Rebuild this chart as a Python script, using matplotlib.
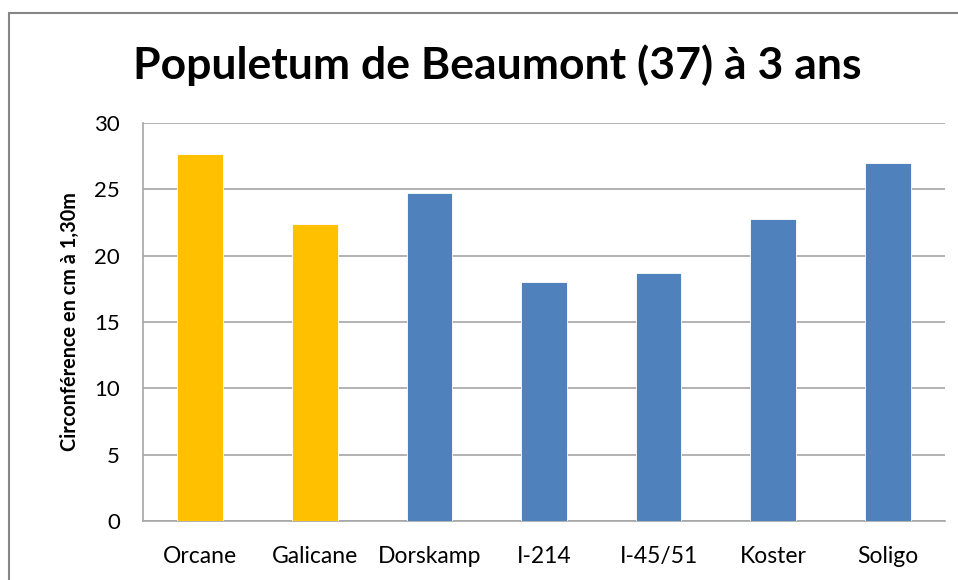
import matplotlib
matplotlib.use("Agg")
import matplotlib.pyplot as plt
from matplotlib.patches import Rectangle

categories = ["Orcane", "Galicane", "Dorskamp", "I-214", "I-45/51", "Koster", "Soligo"]
values = [27.7, 22.4, 24.7, 18.0, 18.7, 22.8, 27.0]
colors = ["#FFC000", "#FFC000", "#4F81BD", "#4F81BD", "#4F81BD", "#4F81BD", "#4F81BD"]
yticks = [0, 5, 10, 15, 20, 25, 30]

plt.rcParams["font.family"] = ["Lato", "DejaVu Sans"]

fig = plt.figure(figsize=(9.58, 5.8), dpi=100)
ax = fig.add_axes([143 / 958, 1 - 521 / 580, (945 - 143) / 958, (521 - 123) / 580])

# outer chart frame
fig.patches.append(Rectangle((9 / 958, -0.1), 1.2, 1 - 13 / 580 + 0.1,
                             transform=fig.transFigure, fill=False,
                             edgecolor="#868686", linewidth=1.5))

x = range(len(categories))
ax.bar(x, values, width=0.4, color=colors, edgecolor="white", linewidth=0.6, zorder=3)

ax.set_ylim(0, 30)
ax.set_xlim(-0.5, len(categories) - 0.5)
ax.set_yticks(yticks)
ax.set_yticklabels([str(v) for v in yticks], fontsize=16)
ax.set_xticks(list(x))
ax.set_xticklabels(categories, fontsize=16.5)
ax.tick_params(axis="y", length=0, pad=16.5)
ax.tick_params(axis="x", length=0, pad=18)
ax.grid(True, axis="y", color="#A6A6A6", linewidth=1.2, zorder=0)

for side in ["top", "right"]:
    ax.spines[side].set_visible(False)
ax.spines["left"].set_color("#A6A6A6")
ax.spines["bottom"].set_color("#A6A6A6")
ax.spines["left"].set_linewidth(1.2)
ax.spines["bottom"].set_linewidth(1.2)

ax.set_ylabel("Circonférence en cm à 1,30m", fontsize=14.3, fontweight="bold", labelpad=10)
fig.text(497 / 958, 1 - 65 / 580, "Populetum de Beaumont (37) à 3 ans",
         ha="center", va="center", fontsize=32, fontweight="bold")

fig.savefig("out.png", dpi=100)
